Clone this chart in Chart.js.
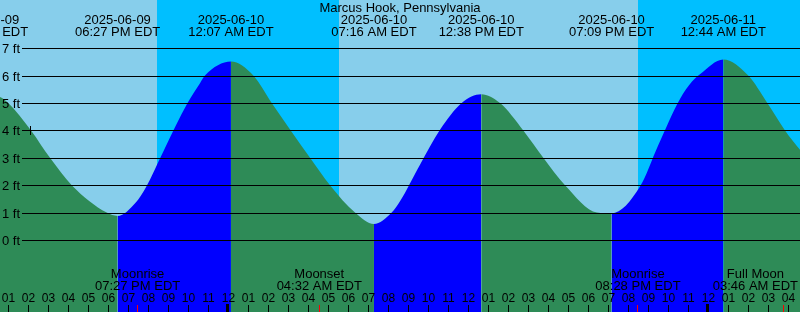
<!DOCTYPE html>
<html>
<head>
<meta charset="utf-8">
<title>Marcus Hook tides</title>
<script src="https://cdn.jsdelivr.net/npm/chart.js@4.4.1/dist/chart.umd.min.js"></script>
<style>
  html, body { margin: 0; padding: 0; background: #fff; }
  canvas { display: block; }
</style>
</head>
<body>
<canvas id="tideChart" width="800" height="312"></canvas>
<script>
const STATION = 'Marcus Hook, Pennsylvania';

// tide curve: hours since 2025-06-09 00:00 EDT, water level in feet
const tideHours = [11.87, 12.57, 12.985, 14.12, 15.07, 16.155, 17.905, 18.45, 19.37, 19.82, 20.82, 21.92, 22.57, 22.82,
  24.117, 25.235, 26.155, 27.105, 28.07, 29.07, 30.32, 31.267, 32.155, 32.57, 33.57, 34.57, 35.655, 36.633,
  37.57, 38.735, 39.735, 40.82, 42.42, 43.15, 44.57, 45.47, 46.57, 47.17, 47.57, 48.733, 49.985, 50.935, 51.82, 52.57, 53.32];
const tideFeet = [5.30, 5.22, 5.00, 4.00, 3.00, 2.00, 1.00, 0.88, 1.38, 1.86, 3.36, 4.96, 5.72, 6.00,
  6.51, 6.00, 5.00, 4.00, 3.00, 2.00, 1.00, 0.58, 1.00, 1.41, 2.75, 4.02, 5.00, 5.32,
  5.00, 4.00, 3.00, 2.00, 1.00, 0.97, 1.95, 3.44, 5.15, 5.78, 6.05, 6.59, 6.00, 5.00, 4.00, 3.29, 2.60];

// high and low tides listed along the top
const extremeHours = [11.87, 18.45, 24.117, 31.267, 36.633, 43.15, 48.733];
const extremeDates = ['2025-06-09', '2025-06-09', '2025-06-10', '2025-06-10', '2025-06-10', '2025-06-10', '2025-06-11'];
const extremeTimes = ['11:52 AM EDT', '06:27 PM EDT', '12:07 AM EDT', '07:16 AM EDT', '12:38 PM EDT', '07:09 PM EDT', '12:44 AM EDT'];

// moon events along the bottom
const moonHours = [19.45, 28.533, 44.467, 51.767];
const moonNames = ['Moonrise', 'Moonset', 'Moonrise', 'Full Moon'];
const moonTimes = ['07:27 PM EDT', '04:32 AM EDT', '08:28 PM EDT', '03:46 AM EDT'];

// night = sunset .. sunrise
const nightStarts = [20.405, 44.455];
const nightEnds = [29.52, 53.0];

const feetTicks = [0, 1, 2, 3, 4, 5, 6, 7];
const markHour = 14.08;
const markFeet = 4;

const X_MIN = 12.57, X_MAX = 52.57;
const Y_MIN = -2.628, Y_MAX = 8.759;

const DAY = '#87ceeb';
const NIGHT = '#00bfff';
const FLOOD = '#0000ff';
const EBB = '#2e8b57';
const FONT = '"Liberation Sans", Arial, sans-serif';

const backdrop = {
  id: 'backdrop',
  beforeDatasetsDraw(chart) {
    const { ctx, chartArea: area, scales: { x } } = chart;
    ctx.save();
    ctx.fillStyle = DAY;
    ctx.fillRect(area.left, area.top, area.width, area.height);
    ctx.fillStyle = NIGHT;
    nightStarts.forEach((start, i) => {
      const x0 = Math.round(x.getPixelForValue(start));
      const x1 = Math.round(Math.min(x.getPixelForValue(nightEnds[i]), area.right));
      ctx.fillRect(x0, area.top, x1 - x0, area.height);
    });
    ctx.restore();
  }
};

const overlay = {
  id: 'overlay',
  afterDatasetsDraw(chart) {
    const { ctx, chartArea: area, scales: { x, y } } = chart;
    ctx.save();

    // depth lines + labels
    ctx.fillStyle = '#000';
    ctx.font = '13px ' + FONT;
    ctx.textAlign = 'left';
    ctx.textBaseline = 'middle';
    feetTicks.forEach(ft => {
      const py = Math.round(y.getPixelForValue(ft));
      ctx.fillRect(22, py, area.right - 22, 1);
      ctx.fillText(ft + ' ft', 2, py + 1);
    });

    // small mark on the 4 ft line
    const mx = Math.floor(x.getPixelForValue(markHour));
    const my = Math.round(y.getPixelForValue(markFeet));
    ctx.fillRect(mx, my - 4, 1, 9);

    // title and tide times
    ctx.textAlign = 'center';
    ctx.textBaseline = 'alphabetic';
    ctx.fillText(STATION, 400, 12);
    extremeHours.forEach((h, i) => {
      const px = x.getPixelForValue(h);
      ctx.fillText(extremeDates[i], px, 24);
      ctx.fillText(extremeTimes[i], px, 36);
    });

    // moon events, kept inside the picture
    moonHours.forEach((h, i) => {
      const w = Math.max(ctx.measureText(moonNames[i]).width, ctx.measureText(moonTimes[i]).width);
      let px = x.getPixelForValue(h);
      px = Math.min(px, area.right - 2 - w / 2);
      ctx.fillText(moonNames[i], px, 278);
      ctx.fillText(moonTimes[i], px, 290);
    });

    // hour ticks
    ctx.font = '12px ' + FONT;
    for (let h = Math.ceil(X_MIN); h <= X_MAX; h++) {
      const px = Math.floor(x.getPixelForValue(h));
      const hr = h % 12 === 0 ? 12 : h % 12;
      ctx.fillStyle = '#000';
      ctx.fillText(String(hr).padStart(2, '0'), px + 0.5, 302);
      if (h % 24 === 0) ctx.fillRect(px - 2, 304, 3, 8);
      else ctx.fillRect(px, 305, 1, 7);
    }
    ctx.fillStyle = '#ff0000';
    moonHours.forEach(h => {
      const px = Math.floor(x.getPixelForValue(h));
      ctx.fillRect(px, 305, 1, 7);
    });

    ctx.restore();
  }
};

const ctx = document.getElementById('tideChart').getContext('2d');

new Chart(ctx, {
  type: 'line',
  data: {
    datasets: [{
      label: 'Tide (ft)',
      data: tideHours.map((h, i) => ({ x: h, y: tideFeet[i] })),
      fill: 'start',
      backgroundColor: EBB,
      borderColor: 'rgba(0,0,0,0)',
      borderWidth: 0,
      pointRadius: 0,
      cubicInterpolationMode: 'monotone',
      segment: {
        backgroundColor: c => (c.p1.parsed.y > c.p0.parsed.y ? FLOOD : EBB)
      }
    }]
  },
  options: {
    responsive: false,
    animation: false,
    layout: { padding: 0 },
    plugins: {
      legend: { display: false },
      tooltip: { enabled: false },
      title: { display: false }
    },
    scales: {
      x: { type: 'linear', min: X_MIN, max: X_MAX, display: false },
      y: { type: 'linear', min: Y_MIN, max: Y_MAX, display: false }
    }
  },
  plugins: [backdrop, overlay]
});
</script>
</body>
</html>
